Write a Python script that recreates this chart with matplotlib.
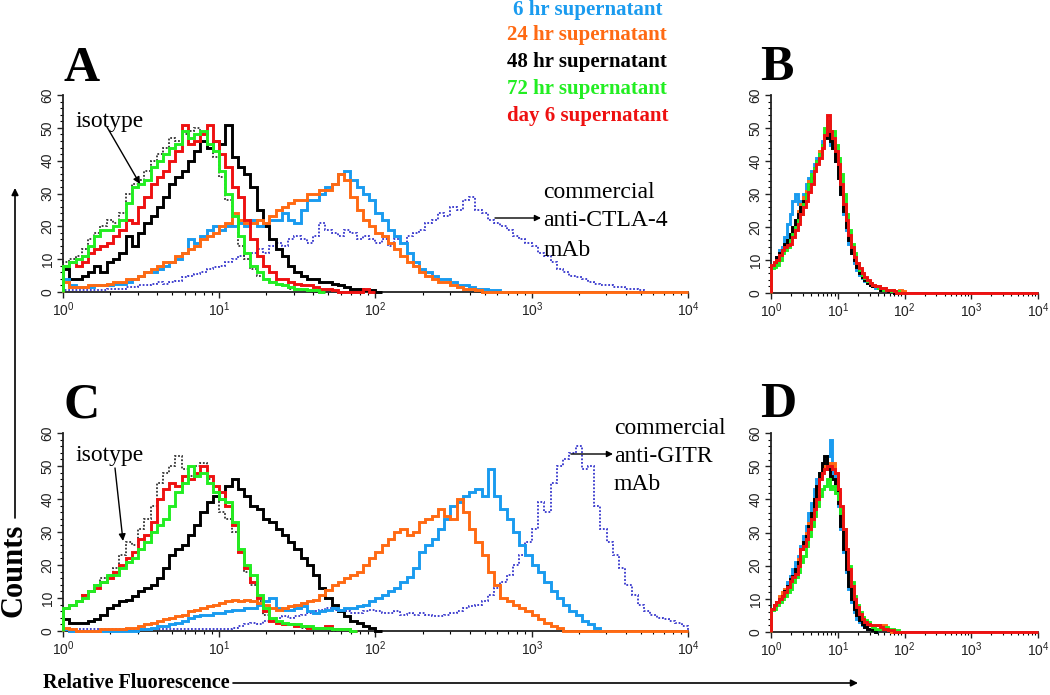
import numpy as np
import matplotlib
matplotlib.use("Agg")
import matplotlib.pyplot as plt
import matplotlib.patches as mpatches
from matplotlib.ticker import MultipleLocator, LogLocator, NullFormatter

# ---------------- data (counts per channel, channels spaced 0.04 decades from 10^0) -------------
STEP = 0.04

A_isotype = [9,10,11,13,16,18,20,22,21,24,30,33,34,37,40,42,44,47,46,48,49,50,48,44,41,35,28,20,14,10,7,5,4,3,2,2,1,1,0.5,0.5,0]
A_6hr = [4,2,1.5,1.5,1.5,2,2,2,2.5,2.5,3,4,5,6,6,7,8,9,10,12,16,15,17,19,20,19,20,20,21,20,22,20,21,22,22,24,22,21,25,28,28,30,32,33,36,37,34,32,30,28,24,22,19,17,15,12,9,7,6,5,4,4,3,2,2,1.5,1,1,0.5,0.5,0]
A_24hr = [3,1.5,1.5,1.5,2,2,2,2.5,3,3,4,4,5,6,7,8,9,9,11,12,13,14,16,17,18,20,21,24,22,21,21,22,21,23,25,26,27,28,28,30,30,31,31,33,36,34,29,25,22,20,18,17,15,13,11,9,8,6,5,4,3,3,2,1.5,1,1,0.5,0]
A_48hr = [7,4,4,5,6,8,6,9,10,12,17,14,18,21,23,26,29,33,35,37,40,43,46,44,46,45,51,41,38,36,32,25,20,16,13,11,8,6,5,4,4,3,3,2.5,2,1.5,1,1,0.5,0.5,0]
A_72hr = [8,9,10,11,14,17,19,19,20,22,27,32,33,34,38,40,42,44,45,49,47,48,49,45,43,37,30,23,17,12,8,6,4,3,2.5,2,1.5,1,1,0.5,0.5,0]
A_day6 = [8,9,8,9,12,13,14,15,17,19,22,21,26,29,33,35,37,40,43,51,45,46,48,51,46,42,38,32,29,22,16,11,8,6,4,4,3,2.5,2,2,1.5,1,1,0.5,0,0,0,0,1,0]
A_commercial = [0.5,0.5,0.5,0.5,0.5,0.5,0.5,1,1,1,1.5,1.5,2,2,2.5,3,2.5,3,3.5,4.5,5,5.5,6,7,7.5,8,9,10,11,12,12,13,12,14,15,14,16,17,16,15,17,21,19,18,17,19,18,16,17,16,15,16,14,16,15,17,18,19,21,22,24,23,26,25,28,29,25,24,22,21,20,19,17,16,15,14,12,11,9,7,6,5,4.5,4,3,2.5,2,2,1.5,1.5,1,1,0.5,0]

B_6hr = [8,9,11,13,14,17,21,24,28,30,27,28,30,33,35,37,39,41,43,46,48,50,45,44,40,36,30,24,19,15,12,9,7,5.5,4.5,3.5,3,2.5,2,1.5,1.5,1,1,1,0.5,0.5,0]
B_24hr = [8,9,10,12,13,14,16,18,20,22,25,27,29,31,34,36,38,40,43,45,48,51,47,44,41,37,32,26,21,17,13,11,8,6.5,5,4.5,3.5,3,2.5,2,2,1.5,1.5,1,1,1,0.5,0.5,1,0.5,0]
B_48hr = [8,9,11,12,13,15,16,18,20,22,24,26,28,30,33,35,38,40,42,45,47,52,46,44,40,35,30,25,20,16,12,10,8,6,5,4,3,2.5,2,2,1.5,1,1,1,0.5,0.5,0]
B_72hr = [7.5,8,8.5,10,12,13,14,16,18,20,22,24,27,30,33,36,38,40,42,45,50,52,49,49,45,41,36,30,24,19,15,12,9,7,5.5,4.5,3.5,3,2.5,2,1.5,1.5,1,1,1,0.5,0.5,0.5,0]
B_day6 = [8.5,9.5,10,11.5,13,14,14.5,15,17,19,21,24,26,28,30.5,33,37,39,41,44,48,54,49,47,43,39,33,27,22,17.5,14,11,9,7.5,6,5,4,3,2.5,2,2,1.5,1.5,1,1,1,0.5,0]

C_isotype = [7,8,9,11,12,14,16,17,19,23,27,26,31,34,38,45,48,50,53,49,47,50,51,46,42,36,34,30,24,18,14,9,5,3,2.5,2,2,1.5,1,1,1,0.5,0.5,0]
C_6hr = [0.5,0,0,0,0,0,0,0,0,0,0,0,0.5,0.5,1,1.5,1.5,2,2.5,3,4,4.5,5,5,5.5,5.5,6,6.5,6.5,7,7,8,9,10,7,6.5,6.5,7,7.5,6,5.5,6,6.5,7,6.5,7,7,7.5,8,9,10,11,12,13,15,16.5,19,24,26,28,31,34,38,39,41,42,43,41,49,41,37,34,30,26,23,20,18,15,12,10,8,6,5,3,2,1,0]
C_24hr = [1,0.5,0,0,0,0,0.5,0.5,0.5,0.5,1,1,1.5,2,2.5,3,3.5,4,4.5,5,6,6.5,7,7.5,8,8.5,9,9.5,9,9.5,9,8.5,8,7,6.5,7,7.5,8,8.5,9,9.5,11,12.5,14,15,16,17,18,20,22,24,26,28,30,31,29,30,33,34,35,37,35,34,40,36,31,27,23,18,14,10,9,8,7,6,5,3.5,2.5,1.5,1,0]
C_48hr = [3.5,2.5,2.5,2.5,3,3.5,5,7,8,9,9.5,10.5,12,13,14,16,19,23,25,26,29,32,36,39,41,40,44,46,43,41,38,37,34,33,31,29,27,25,22,20,17,13,10,8,6,4.5,3,2.5,1.5,1,0]
C_72hr = [7,8,9,10,12,14,15,17,17,19,21,22,25,27,30,32,34,38,42,45,50,47,48,45,42,40,39,33,25,20,17,11,7,4,3,2.5,2,2,1.5,1.5,1,1,1,0.5,0.5,0.5,0]
C_day6 = [7,8,9,11,12,13,15,16,18,20,22,24,28,29,33,40,43,45,44,47,46,48,50,47,44,42,38,32,24,19,15,10,6,3,2.5,2,2,1.5,1.5,1,1,1,1.5,0.5,0.5,0.5,0]
C_commercial = [0.5,0.5,0.5,0.5,0.5,0.5,0.5,0.5,0.5,0.5,0.5,0.5,0.5,0.5,0.5,0.5,0.5,0.5,0.5,0.5,0.5,0.5,0.5,0.5,0.5,
                0.5,0.5,1,1.5,2,2.5,2,3,3.5,4,4.5,4,4.5,5,5.5,6,6.5,7,6.5,6.5,6,5.5,5.5,6,6.5,6,5.5,5.5,6,5,5.5,5,5.5,5,4.5,4.5,5,5.5,6,7,7.5,8,9,11,13,15,17,20,23,27,31,39,36,45,50,52,54,56,49,50,38,31,27,23,19,14,11,8,6,5,4,3.5,3,2.5,1.5]

D_6hr = [6.5,7.5,9,10,12,13,15,17,19,21,23,26,29,32,36,39,43,46,48,50,52,53,58,48,44,38,31,24,18,13,9,6,4,3,2,1.5,1,1,0.5,0]
D_24hr = [7,8,9,11,12,13,14,16,17,19,22,25,27,30,33,36,40,43,47,49,50,51,50,51,48,42,35,28,21,16,12,9,6,4.5,3.5,3,2.5,2,2,2,2,2,2,1,0.5,0]
D_48hr = [7,8,9,10,11,12.5,14,16,17,19,21,25,27,29,32,36,40,44,48,51,53,49,47,46,44,39,32,25,19,14,10,7,5,3.5,2.5,1.5,1,1,0.5,0]
D_72hr = [6.5,7,8,9,10,11,12,13,15,16.5,18,21,23,26,29,32,35,38,41,43,44,46,43,44,42,40,36,31,25,20,15,11,8,6,4.5,3.5,3,2,1.5,1,1,1,1.5,1.5,1,1,0.5,0.5,0]
D_day6 = [7,8,9,10,11,12,13.5,15.5,16.5,17.5,20,25,26,28,31,34,37,40,46,48,49,50,50,49,48,43,38,31,25,19,14,10,7.5,5.5,4,3,2.5,2,2,2,2,1.5,1,1,0.5,0.5,0]

SERIES_LABELS = ["6 hr supernatant", "24 hr supernatant", "48 hr supernatant",
                 "72 hr supernatant", "day 6 supernatant"]
X_TICK_EXPONENTS = [0, 1, 2, 3, 4]
Y_TICKS = [0, 10, 20, 30, 40, 50, 60]

# ---------------- styles ----------------
BLUE = '#1a9bef'
ORANGE = '#ff6a13'
BLACK = '#000000'
GREEN = '#22ee22'
RED = '#ee1111'
COMM = '#3535cc'
ISO = '#333333'
SERIES_COLORS = [BLUE, ORANGE, BLACK, GREEN, RED]

W, H = 1050, 695
fig = plt.figure(figsize=(W / 100, H / 100), dpi=100)
fig.patch.set_facecolor('white')


def box(l, t, r, b):
    return [l / W, 1 - b / H, (r - l) / W, (b - t) / H]


axA = fig.add_axes(box(63, 95, 688, 292))
axB = fig.add_axes(box(771, 95, 1038, 293))
axC = fig.add_axes(box(63, 433, 688, 631))
axD = fig.add_axes(box(771, 433, 1038, 632))

N_CH = int(round(4 / STEP))


def draw(ax, vals, color, lw=2.1, ls='-', extend=False, z=2):
    v = np.asarray(vals, dtype=float)
    if extend:
        v = np.concatenate([v, np.zeros(N_CH - len(v))])
    edges = 10 ** (np.arange(len(v) + 1) * STEP)
    ax.stairs(v, edges, baseline=0, color=color, lw=lw, linestyle=ls,
              clip_on=False, zorder=z)


def style(ax):
    ax.set_xscale('log')
    ax.set_xlim(1, 1e4)
    ax.set_ylim(0, 60)
    for s in ['top', 'right']:
        ax.spines[s].set_visible(False)
    for s in ['left', 'bottom']:
        ax.spines[s].set_linewidth(1.3)
        ax.spines[s].set_color('#222222')
    ax.set_yticks(Y_TICKS)
    ax.yaxis.set_minor_locator(MultipleLocator(2))
    ax.set_xticks([10.0 ** e for e in X_TICK_EXPONENTS])
    ax.set_xticklabels([r'$\mathregular{10^{%d}}$' % e for e in X_TICK_EXPONENTS])
    ax.xaxis.set_minor_locator(LogLocator(base=10, subs=np.arange(2, 10)))
    ax.xaxis.set_minor_formatter(NullFormatter())
    ax.tick_params(axis='both', which='major', length=4, width=1.0,
                   labelsize=10, direction='out', colors='#222222')
    ax.tick_params(axis='both', which='minor', length=2.5, width=0.8, direction='out')
    ax.tick_params(axis='y', pad=2)
    ax.tick_params(axis='x', pad=2)
    for lab in ax.get_yticklabels():
        lab.set_rotation(90)
        lab.set_va('center')
        lab.set_family('Liberation Sans')
    for lab in ax.get_xticklabels():
        lab.set_family('Liberation Sans')
    ax.set_facecolor('none')


# Panel A
draw(axA, A_commercial, COMM, lw=1.3, ls=(0, (1, 1)), z=2)
draw(axA, A_isotype, ISO, lw=1.3, ls=(0, (1, 1)), z=2)
draw(axA, A_48hr, BLACK, z=3)
draw(axA, A_6hr, BLUE, z=3)
draw(axA, A_24hr, ORANGE, extend=True, z=3)
draw(axA, A_day6, RED, z=4)
draw(axA, A_72hr, GREEN, z=4)

# Panel B
for vals, col in zip([B_6hr, B_24hr, B_48hr, B_72hr], SERIES_COLORS[:4]):
    draw(axB, vals, col, z=3)
draw(axB, B_day6, RED, extend=True, z=4)

# Panel C
draw(axC, C_commercial, COMM, lw=1.3, ls=(0, (1, 1)), z=2)
draw(axC, C_isotype, ISO, lw=1.3, ls=(0, (1, 1)), z=2)
draw(axC, C_48hr, BLACK, z=3)
draw(axC, C_6hr, BLUE, z=3)
draw(axC, C_24hr, ORANGE, extend=True, z=3)
draw(axC, C_day6, RED, z=4)
draw(axC, C_72hr, GREEN, z=4)

# Panel D
for vals, col in zip([D_6hr, D_24hr, D_48hr, D_72hr], SERIES_COLORS[:4]):
    draw(axD, vals, col, z=3)
draw(axD, D_day6, RED, extend=True, z=4)

for ax in (axA, axB, axC, axD):
    style(ax)

SERIF = 'Liberation Serif'


def ftext(x, y, s, **kw):
    kw.setdefault('family', SERIF)
    return fig.text(x / W, 1 - y / H, s, transform=fig.transFigure, **kw)


def farrow(x0, y0, x1, y1, lw=1.0, ms=10):
    fig.add_artist(mpatches.FancyArrowPatch((x0 / W, 1 - y0 / H), (x1 / W, 1 - y1 / H),
                                            transform=fig.transFigure, arrowstyle='-|>',
                                            mutation_scale=ms, lw=lw, color='black',
                                            shrinkA=0, shrinkB=0))


# panel letters
for letter, x, y in [('A', 63, 81), ('B', 760, 80), ('C', 63, 417), ('D', 760, 417)]:
    ftext(x, y, letter, fontsize=36, fontweight='bold', va='baseline', ha='left')

# legend (coloured text)
legend_y = [10, 35, 62, 89, 116]
for lab, col, y in zip(SERIES_LABELS, SERIES_COLORS, legend_y):
    x = 513 if lab.startswith('6 ') else 507
    ftext(x, y, lab, fontsize=15, fontweight='bold', color=col, va='center', ha='left')

# isotype labels and arrows
ftext(76, 121, 'isotype', fontsize=17, va='center', ha='left')
farrow(107, 127, 140, 184)
ftext(76, 455, 'isotype', fontsize=17, va='center', ha='left')
farrow(115, 468, 123, 541)

# commercial antibody labels
for txt, y in [('commercial', 192), ('anti-CTLA-4', 221), ('mAb', 250)]:
    ftext(543, y, txt, fontsize=17, va='center', ha='left')
farrow(495, 218, 541, 218, ms=9)
for txt, y in [('commercial', 428), ('anti-GITR', 456), ('mAb', 485)]:
    ftext(614, y, txt, fontsize=17, va='center', ha='left')
farrow(571, 454, 613, 454, ms=9)

# axis titles with arrows
ftext(14, 570, 'Counts', fontsize=22, fontweight='bold', rotation=90, va='center', ha='center')
farrow(15, 518, 15, 188, lw=1.2)
ftext(43, 688, 'Relative Fluorescence', fontsize=14.5, fontweight='bold', va='baseline', ha='left')
farrow(233, 683, 858, 683, lw=1.2)

fig.savefig('out.png', dpi=100, facecolor='white')
